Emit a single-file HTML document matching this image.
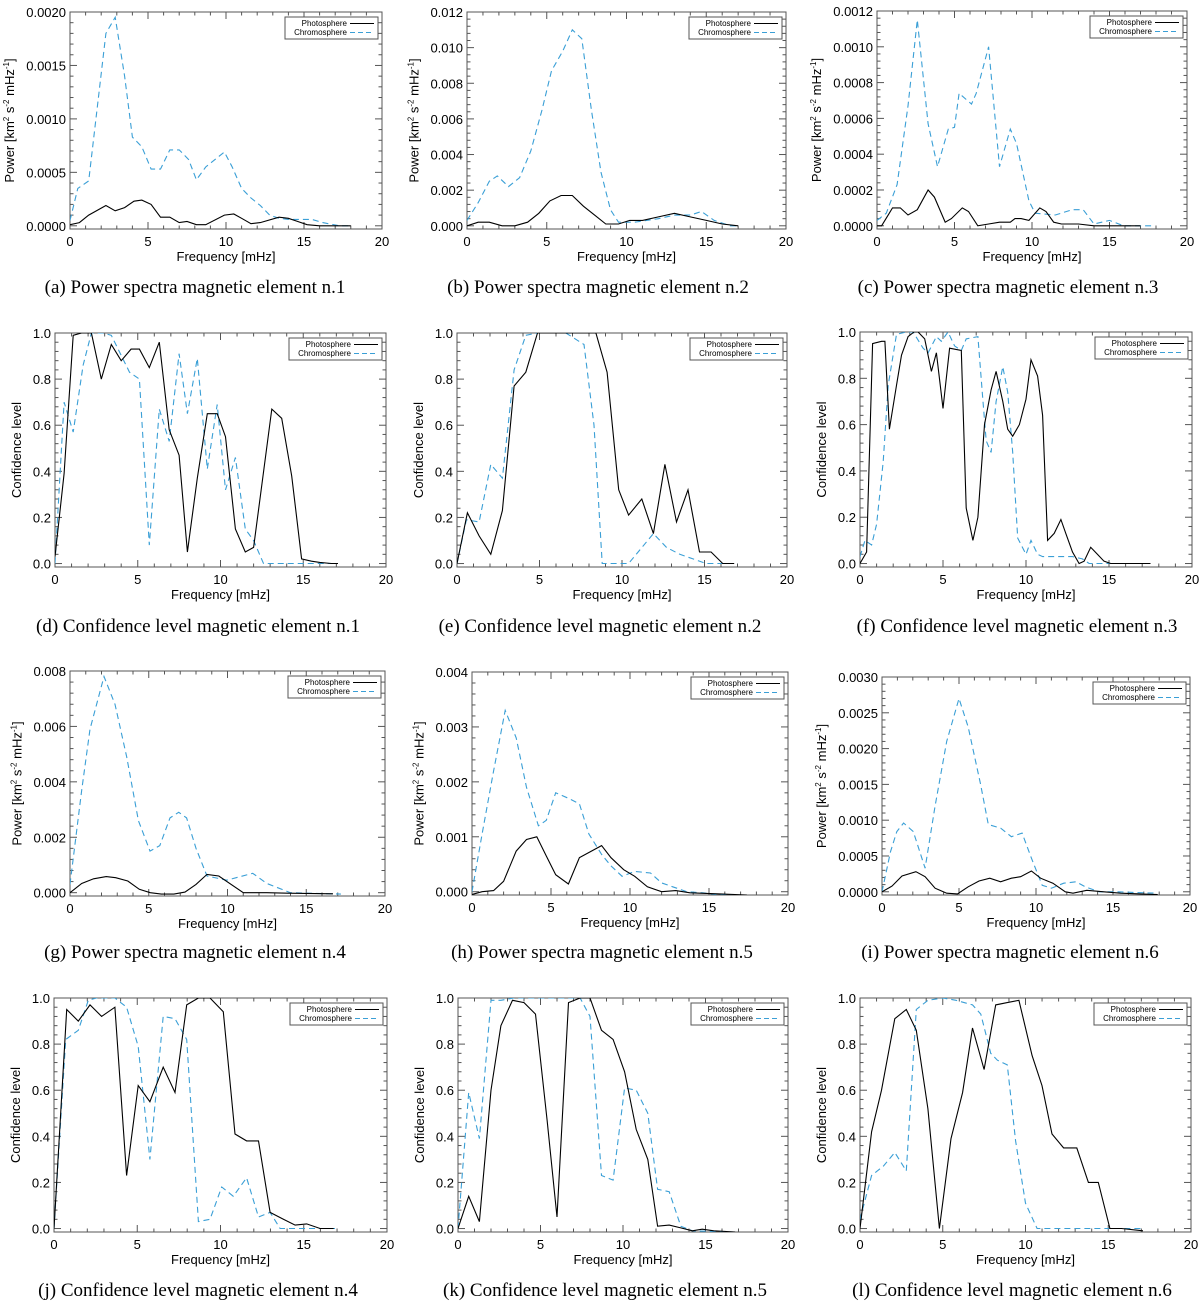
<!DOCTYPE html>
<html><head><meta charset="utf-8"><style>
html,body{margin:0;padding:0;background:#fff;}
svg{display:block;}
.tk{font-family:"Liberation Sans",sans-serif;font-size:13px;fill:#000;}
.ax{font-family:"Liberation Sans",sans-serif;font-size:13px;fill:#000;}
.cap{font-family:"Liberation Serif",serif;font-size:19px;fill:#000;}
.lg{font-family:"Liberation Sans",sans-serif;font-size:8px;fill:#000;}
</style></head><body>
<svg id="fig" width="1200" height="1305" viewBox="0 0 1200 1305" xmlns="http://www.w3.org/2000/svg"></svg>
<script>
// ---- Data: frequency vertices (mHz) and values ----
const aPhotoF=[0,0.6,1.2,2.3,2.9,3.5,4.1,4.6,5.2,5.8,6.4,7.0,7.5,8.1,8.7,9.9,10.5,11.0,11.6,12.2,13.4,14.0,14.6,15.2,16,18];
const aPhotoP=[0.00001,0.00003,0.0001,0.00019,0.00014,0.00017,0.00023,0.00024,0.0002,0.00008,0.00008,0.00003,0.00004,0.00001,0.00001,0.0001,0.00011,0.00007,0.00002,0.00003,0.00008,0.00007,0.00004,0.00001,0,0];
const aChromF=[0,0.5,1.2,2.3,2.9,3.5,4.0,4.6,5.2,5.8,6.4,7.0,7.6,8.1,8.7,9.9,10.4,11.0,11.6,12.2,12.8,13.4,14.0,15.5,16.2,17.3,18];
const aChromP=[0.00005,0.00035,0.00042,0.0018,0.00195,0.0014,0.00083,0.00074,0.00053,0.00053,0.00071,0.00071,0.00062,0.00043,0.00055,0.00069,0.00055,0.00035,0.00026,0.00019,0.0001,0.00007,0.00006,0.00006,0.00003,0,0];

const bPhotoF=[0,0.7,1.4,2.2,3.0,3.8,4.5,5.2,5.9,6.6,7.3,8.0,8.7,9.5,10.2,11,12,13,14,15,16,17];
const bPhotoP=[0,0.0002,0.0002,0,0,0.0002,0.0007,0.0014,0.0017,0.0017,0.0011,0.0006,0.0001,0.0001,0.0003,0.0003,0.0005,0.0007,0.0005,0.0003,0.0001,0];
const bChromF=[0,0.7,1.4,1.9,2.6,3.3,4.0,4.7,5.3,6.0,6.6,7.2,7.8,8.4,9.0,9.5,10.5,12,13,14,14.7,15.5,16.5,17];
const bChromP=[0.0003,0.0013,0.0025,0.0028,0.0022,0.0027,0.0042,0.0065,0.0087,0.0098,0.011,0.0105,0.0065,0.003,0.0009,0.0002,0.0002,0.0004,0.0006,0.0006,0.0008,0.0003,0,0];

const cPhotoF=[0,0.3,1.0,1.5,2.0,2.6,3.3,3.7,4.4,4.8,5.5,5.9,6.5,7.2,7.9,8.6,8.9,9.3,9.8,10.5,10.9,11.4,11.9,13,14,17];
const cPhotoP=[0,0,0.0001,0.0001,0.00006,0.00009,0.0002,0.00016,0.00002,0.00004,0.0001,0.00008,0,0.00001,0.00002,0.00002,0.00004,0.00004,0.00003,0.0001,0.00008,0.00002,0.00001,0.00001,0,0];
const cChromF=[0,0.6,1.3,2.0,2.6,3.3,3.9,4.6,5.0,5.3,6.1,6.4,7.2,7.9,8.6,9.0,9.8,10.2,11.5,12.6,13.3,14.0,15.0,15.9,17.8];
const cChromP=[0.00003,0.00007,0.00023,0.00067,0.00115,0.00057,0.00033,0.00054,0.00055,0.00074,0.00068,0.00074,0.001,0.00033,0.00054,0.00046,0.00014,0.00007,0.00006,0.00009,0.00009,0.00001,0.00003,0,0];

const dPhotoF=[0,0.55,1.1,1.6,2.2,2.8,3.4,4.0,4.6,5.1,5.7,6.3,6.9,7.5,8.0,8.6,9.2,9.8,10.3,10.9,11.5,12.0,13.1,13.7,14.3,14.9,15.5,16.0,16.7,17.1];
const dPhotoC=[0.03,0.39,0.99,1.0,1.0,0.8,0.95,0.88,0.93,0.93,0.85,0.96,0.58,0.47,0.05,0.37,0.65,0.65,0.55,0.15,0.05,0.07,0.67,0.63,0.38,0.02,0.01,0.005,0,0];
const dChromF=[0,0.55,1.1,1.7,2.2,2.9,3.4,4.5,5.1,5.7,6.3,6.9,7.5,8.0,8.6,9.2,9.8,10.3,10.9,11.5,12.0,12.6,14.8,17];
const dChromC=[0,0.7,0.57,0.86,1.0,1.0,0.99,0.83,0.8,0.08,0.67,0.53,0.91,0.65,0.89,0.41,0.69,0.32,0.46,0.15,0.1,0,0,0];

const ePhotoF=[0,0.63,1.34,2.05,2.75,3.46,4.17,4.88,8.42,9.1,9.8,10.4,11.2,11.9,12.6,13.3,14.0,14.7,15.4,16.1,16.8];
const ePhotoC=[0,0.22,0.12,0.04,0.23,0.77,0.83,1.0,1.0,0.83,0.32,0.21,0.28,0.13,0.43,0.18,0.32,0.05,0.05,0,0];
const eChromF=[0,0.57,1.34,2.05,2.75,3.46,4.17,4.88,6.6,7.7,8.3,8.8,10.4,11.9,12.7,13.5,14.3,15.1,17];
const eChromC=[0,0.19,0.18,0.43,0.37,0.84,0.99,1.0,1.0,0.95,0.6,0,0,0.13,0.07,0.04,0.02,0,0];

const fPhotoF=[0,0.4,0.76,1.3,1.5,1.77,2.2,2.5,2.9,3.25,3.5,3.9,4.3,4.6,5.0,5.4,6.1,6.4,6.8,7.1,7.5,7.9,8.2,8.6,8.9,9.2,9.6,10.0,10.3,10.7,11.0,11.3,11.7,12.1,12.4,12.8,13.2,13.5,13.9,14.3,14.7,15.1,17.5];
const fPhotoC=[0,0.05,0.95,0.96,0.96,0.58,0.77,0.9,0.98,1.0,1.0,0.97,0.83,0.91,0.67,0.93,0.92,0.24,0.1,0.2,0.6,0.75,0.83,0.7,0.58,0.55,0.6,0.71,0.88,0.81,0.64,0.1,0.13,0.19,0.13,0.05,0,0.01,0.07,0.04,0.01,0,0];
const fChromF=[0,0.3,0.7,1.0,1.4,1.7,2.2,2.8,3.2,3.8,4.1,4.6,4.9,5.3,5.7,6.1,6.4,7.1,7.4,7.6,7.9,8.2,8.6,8.9,9.2,9.5,10.0,10.3,10.7,11.0,11.6,12.2,12.8,13.4,13.8,17.5];
const fChromC=[0.03,0.1,0.08,0.17,0.44,0.77,0.99,1.0,1.0,0.93,0.91,0.98,0.96,1.0,0.94,0.92,0.97,0.98,0.71,0.53,0.48,0.7,0.85,0.74,0.48,0.11,0.04,0.1,0.04,0.03,0.03,0.03,0.03,0.02,0,0];

const gPhotoF=[0,0.74,1.5,2.3,2.9,3.67,4.4,5.1,5.8,6.6,7.3,8.0,8.7,9.45,11,12.5,13.8,16.7];
const gPhotoP=[0,0.00033,0.0005,0.00058,0.00054,0.00042,0.00012,0,-0.00005,-0.00005,0.00002,0.0003,0.00066,0.0006,0,0,-0.00002,-0.00004];
const gChromF=[0,0.74,1.27,2.16,2.86,3.6,4.34,5.08,5.7,6.35,6.9,7.4,8.0,8.7,9.95,11.6,12.5,14,17.2];
const gChromP=[0.0003,0.0037,0.0059,0.0078,0.0068,0.0049,0.0026,0.0015,0.0017,0.0027,0.0029,0.0027,0.0016,0.0006,0.00045,0.0007,0.00033,0,-0.00005];

const hPhotoF=[0,0.64,1.37,2.0,2.8,3.45,4.1,4.7,5.3,6.1,6.8,7.5,8.2,8.8,9.6,10.3,11.1,12.0,12.9,13.8,15.7,17.4];
const hPhotoP=[-0.00005,0,0.00002,0.00019,0.00074,0.00095,0.001,0.00065,0.00031,0.00014,0.00062,0.00073,0.00084,0.00062,0.0004,0.00028,0.00009,0,0.00002,-0.00002,-0.00004,-0.00006];
const hChromF=[0,0.64,1.37,2.1,2.8,3.45,4.2,4.7,5.3,6.1,6.8,7.4,8.2,8.8,9.5,10.3,11.3,12,12.7,13.6,14.6,15.7,17.4];
const hChromP=[0,0.00105,0.0022,0.0033,0.0028,0.0019,0.0012,0.0013,0.0018,0.0017,0.0016,0.00105,0.00068,0.00047,0.00028,0.00037,0.00034,0.00016,0.00009,0,-0.00002,-0.00006,-0.00006];

const iPhotoF=[0,0.65,1.3,2.2,2.8,3.45,4.2,4.9,5.6,6.3,7.0,7.7,8.4,9.0,9.7,10.3,11.1,11.9,12.4,13.3,14.4,15.5,17.9];
const iPhotoP=[0,0.00008,0.00022,0.00028,0.00021,0.00005,-0.00002,-0.00003,0.00007,0.00015,0.00019,0.00014,0.00019,0.00021,0.00029,0.00019,0.00012,0,-0.00002,0.00002,0,-0.00002,-0.00004];
const iChromF=[0,0.55,0.96,1.4,2.03,2.8,3.45,4.2,5.0,5.6,6.4,6.9,7.7,8.4,9.1,9.7,10.4,11.0,11.8,12.6,13.2,14.1,15.2,17.8];
const iChromP=[0,0.00056,0.00084,0.00096,0.00084,0.00033,0.0012,0.0021,0.0027,0.0023,0.0015,0.00094,0.00089,0.00077,0.00082,0.00047,0.00009,0.00005,0.00012,0.00014,0.00007,0,0,-0.00002];

const jPhotoF=[0,0.76,1.46,2.16,2.86,3.66,4.36,5.06,5.76,6.56,7.27,7.97,8.67,9.37,10.17,10.87,11.57,12.28,12.98,13.78,14.48,15.18,15.98,16.8];
const jPhotoC=[0,0.95,0.9,0.97,0.92,0.96,0.23,0.62,0.55,0.7,0.59,0.97,1.0,1.0,0.94,0.41,0.38,0.38,0.07,0.04,0.015,0.02,0,0];
const jChromF=[0,0.7,1.46,2.06,2.56,3.66,4.36,5.06,5.76,6.56,7.27,7.97,8.67,9.37,10.07,10.77,11.57,12.28,12.98,13.58,17];
const jChromC=[0,0.82,0.86,0.99,1.0,1.0,0.96,0.79,0.3,0.92,0.91,0.82,0.03,0.04,0.18,0.14,0.22,0.05,0.07,0,0];

const kPhotoF=[0,0.65,1.3,2.0,2.6,3.3,4.0,4.7,5.4,6.0,6.7,7.4,8.0,8.7,9.4,10.1,10.8,11.5,12.1,12.8,13.5,14.2,14.8,15.5,16.8];
const kPhotoC=[0,0.14,0.03,0.6,0.88,0.99,0.98,0.93,0.47,0.05,0.98,1.0,1.0,0.86,0.82,0.68,0.43,0.3,0.01,0.015,0.003,-0.01,-0.003,-0.01,-0.015];
const kChromF=[0,0.65,1.3,2.0,2.6,3.4,7.4,8.0,8.7,9.4,10.1,10.8,11.5,12.1,12.8,13.5,14.2,16.7];
const kChromC=[0,0.59,0.39,0.99,0.99,1.0,1.0,0.92,0.23,0.21,0.61,0.6,0.5,0.17,0.16,0.01,-0.01,-0.015];

const lPhotoF=[0,0.7,1.3,2.1,2.8,3.4,4.1,4.8,5.5,6.2,6.8,7.5,8.2,8.9,9.6,10.4,11.0,11.6,12.3,13.1,13.8,14.4,15.1,15.8,17.1];
const lPhotoC=[0,0.42,0.6,0.91,0.95,0.86,0.52,0,0.39,0.59,0.87,0.69,0.97,0.98,0.99,0.75,0.62,0.41,0.35,0.35,0.2,0.2,0,0,-0.01];
const lChromF=[0,0.7,1.4,2.1,2.8,3.4,4.1,5.0,5.8,6.8,7.3,7.9,8.3,8.9,9.4,10.0,10.7,12.5,17];
const lChromC=[0.04,0.23,0.27,0.33,0.25,0.95,0.99,1.0,0.99,0.97,0.93,0.76,0.73,0.71,0.38,0.11,0,0,0];

// ---- Tick labels ----
const xTickLabels=['0','5','10','15','20'];
const ticksA=['0.0000','0.0005','0.0010','0.0015','0.0020'];
const ticksB=['0.000','0.002','0.004','0.006','0.008','0.010','0.012'];
const ticksC=['0.0000','0.0002','0.0004','0.0006','0.0008','0.0010','0.0012'];
const ticksG=['0.000','0.002','0.004','0.006','0.008'];
const ticksH=['0.000','0.001','0.002','0.003','0.004'];
const ticksI=['0.0000','0.0005','0.0010','0.0015','0.0020','0.0025','0.0030'];
const ticksConf=['0.0','0.2','0.4','0.6','0.8','1.0'];

const NS='http://www.w3.org/2000/svg';
const svg=document.getElementById('fig');
function mk(tag,attrs,parent){const e=document.createElementNS(NS,tag);for(const k in attrs)e.setAttribute(k,attrs[k]);(parent||svg).appendChild(e);return e;}

const panels=[
 {id:'a',L:70,R:382,T:12,B:229,ticks:ticksA,conf:false,pf:aPhotoF,pv:aPhotoP,cf:aChromF,cv:aChromP,cap:'(a)  Power spectra magnetic element n.1',cx:195,cy:293},
 {id:'b',L:467,R:786,T:12,B:229,ticks:ticksB,conf:false,pf:bPhotoF,pv:bPhotoP,cf:bChromF,cv:bChromP,cap:'(b)  Power spectra magnetic element n.2',cx:598,cy:293},
 {id:'c',L:877,R:1187,T:11,B:229,ticks:ticksC,conf:false,pf:cPhotoF,pv:cPhotoP,cf:cChromF,cv:cChromP,cap:'(c)  Power spectra magnetic element n.3',cx:1008,cy:293},
 {id:'d',L:55,R:386,T:333,B:567,ticks:ticksConf,conf:true,pf:dPhotoF,pv:dPhotoC,cf:dChromF,cv:dChromC,cap:'(d)  Confidence level magnetic element n.1',cx:198,cy:632},
 {id:'e',L:457,R:787,T:333,B:567,ticks:ticksConf,conf:true,pf:ePhotoF,pv:ePhotoC,cf:eChromF,cv:eChromC,cap:'(e)  Confidence level magnetic element n.2',cx:600,cy:632},
 {id:'f',L:860,R:1192,T:332,B:567,ticks:ticksConf,conf:true,pf:fPhotoF,pv:fPhotoC,cf:fChromF,cv:fChromC,cap:'(f)  Confidence level magnetic element n.3',cx:1017,cy:632},
 {id:'g',L:70,R:385,T:671,B:896,ticks:ticksG,conf:false,pf:gPhotoF,pv:gPhotoP,cf:gChromF,cv:gChromP,cap:'(g)  Power spectra magnetic element n.4',cx:195,cy:958},
 {id:'h',L:472,R:788,T:672,B:895,ticks:ticksH,conf:false,pf:hPhotoF,pv:hPhotoP,cf:hChromF,cv:hChromP,cap:'(h)  Power spectra magnetic element n.5',cx:602,cy:958},
 {id:'i',L:882,R:1190,T:677,B:895,ticks:ticksI,conf:false,pf:iPhotoF,pv:iPhotoP,cf:iChromF,cv:iChromP,cap:'(i)  Power spectra magnetic element n.6',cx:1010,cy:958},
 {id:'j',L:54,R:387,T:998,B:1232,ticks:ticksConf,conf:true,pf:jPhotoF,pv:jPhotoC,cf:jChromF,cv:jChromC,cap:'(j)  Confidence level magnetic element n.4',cx:198,cy:1296},
 {id:'k',L:458,R:788,T:998,B:1232,ticks:ticksConf,conf:true,pf:kPhotoF,pv:kPhotoC,cf:kChromF,cv:kChromC,cap:'(k)  Confidence level magnetic element n.5',cx:605,cy:1296},
 {id:'l',L:860,R:1191,T:998,B:1232,ticks:ticksConf,conf:true,pf:lPhotoF,pv:lPhotoC,cf:lChromF,cv:lChromC,cap:'(l)  Confidence level magnetic element n.6',cx:1012,cy:1296}
];

panels.forEach(p=>{
  const g=mk('g',{});
  
  
  const ymax=parseFloat(p.ticks[p.ticks.length-1]);
  const ymin=p.conf?-0.015:-0.015*ymax;
  const xs=v=>p.L+(v/20)*(p.R-p.L);
  const ys=v=>p.B-(v-ymin)/(ymax-ymin)*(p.B-p.T);
  // frame
  const fr=mk('rect',{x:p.L,y:p.T,width:p.R-p.L,height:p.B-p.T,fill:'none',stroke:'#555','stroke-width':1},g);
  
  
  // x ticks
  for(let v=0;v<=20;v+=1){
    const x=xs(v),len=(v%5===0)?7:3.5;
    mk('line',{x1:x,y1:p.B,x2:x,y2:p.B-len,stroke:'#555'},g);
    mk('line',{x1:x,y1:p.T,x2:x,y2:p.T+len,stroke:'#555'},g);
  }
  xTickLabels.forEach((t,i)=>{
    const tx=mk('text',{x:xs(i*5),y:p.B+17,'text-anchor':'middle',class:'tk'},g);
    tx.textContent=t;
    
    
  });
  // y ticks
  const n=p.ticks.length-1, step=ymax/n;
  for(let k=0;k<=n*5;k++){
    const v=k*step/5; if(v>ymax+1e-12)break;
    const y=ys(v),len=(k%5===0)?7:3.5;
    mk('line',{x1:p.L,y1:y,x2:p.L+len,y2:y,stroke:'#555'},g);
    mk('line',{x1:p.R,y1:y,x2:p.R-len,y2:y,stroke:'#555'},g);
  }
  p.ticks.forEach((t,i)=>{
    const ty=mk('text',{x:p.L-4,y:ys(parseFloat(t))+5,'text-anchor':'end',class:'tk'},g);
    ty.textContent=t;
    
    
  });
  // axis titles
  const xt=mk('text',{x:(p.L+p.R)/2,y:p.B+32,'text-anchor':'middle',class:'ax'},g);
  xt.textContent='Frequency [mHz]';
  
  
  const maxw=Math.max(...p.ticks.map(t=>t.length))*7.3;
  const yx=p.L-maxw-12, yy=(p.T+p.B)/2;
  const yt=mk('text',{x:yx,y:yy,'text-anchor':'middle',class:'ax',transform:`rotate(-90 ${yx} ${yy})`},g);
  
  
  if(p.conf){yt.textContent='Confidence level';}
  else{
    yt.innerHTML='Power [km<tspan dy="-5" font-size="8">2</tspan><tspan dy="5"> s</tspan><tspan dy="-5" font-size="8">-2</tspan><tspan dy="5"> mHz</tspan><tspan dy="-5" font-size="8">-1</tspan><tspan dy="5">]</tspan>';
  }
  // series
  const clipId='clip'+p.id;
  const cp=mk('clipPath',{id:clipId},g); mk('rect',{x:p.L,y:p.T,width:p.R-p.L,height:p.B-p.T},cp);
  const path=(f,v)=>f.map((x,i)=>(i?'L':'M')+xs(x).toFixed(1)+' '+ys(v[i]).toFixed(1)).join(' ');
  const ch=mk('path',{d:path(p.cf,p.cv),fill:'none',stroke:'#3a9fd6','stroke-width':1.1,'stroke-dasharray':'6 4','clip-path':`url(#${clipId})`},g);
  
  
  const ph=mk('path',{d:path(p.pf,p.pv),fill:'none',stroke:'#000','stroke-width':1.1,'clip-path':`url(#${clipId})`},g);
  
  
  // legend
  const lw=93,lh=22,lx=p.R-lw-4,ly=p.T+5;
  const lg=mk('g',{},g);
  
  
  mk('rect',{x:lx,y:ly,width:lw,height:lh,fill:'#fff',stroke:'#555','stroke-width':1},lg);
  const t1=mk('text',{x:lx+62,y:ly+9,'text-anchor':'end',class:'lg'},lg); t1.textContent='Photosphere';
  
  
  mk('line',{x1:lx+65,y1:ly+6.5,x2:lx+89,y2:ly+6.5,stroke:'#000','stroke-width':1},lg);
  const t2=mk('text',{x:lx+62,y:ly+18,'text-anchor':'end',class:'lg'},lg); t2.textContent='Chromosphere';
  
  
  mk('line',{x1:lx+65,y1:ly+15.5,x2:lx+89,y2:ly+15.5,stroke:'#3a9fd6','stroke-width':1,'stroke-dasharray':'5 3'},lg);
  // caption
  const c=mk('text',{x:p.cx,y:p.cy,'text-anchor':'middle',class:'cap'},g);
  c.textContent=p.cap;
  
  
});
</script>
</body></html>
